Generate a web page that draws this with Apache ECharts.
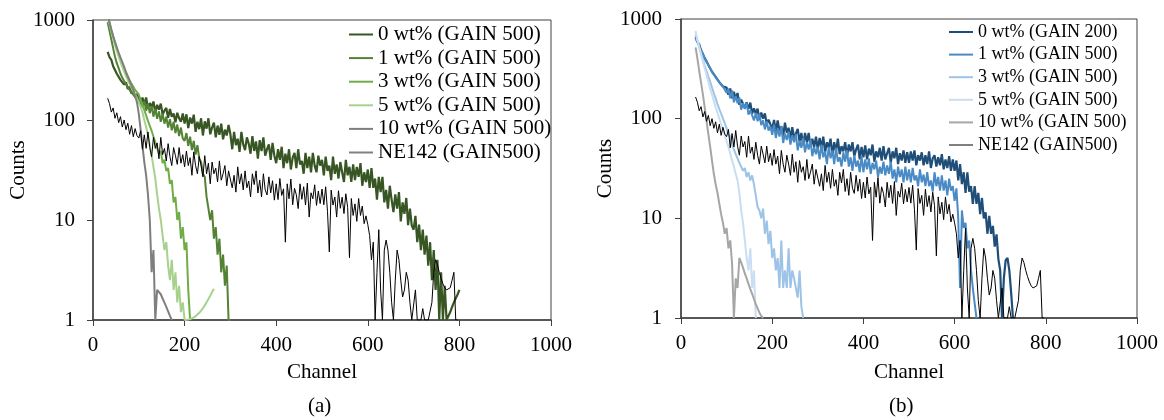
<!DOCTYPE html>
<html lang="en">
<head>
<meta charset="utf-8" />
<title>Counts vs Channel</title>
<script src="https://cdn.jsdelivr.net/npm/echarts@6/dist/echarts.min.js"></script>
<style>
  html, body { margin: 0; padding: 0; background: #fff; }
  #chart { width: 1164px; height: 420px; }
</style>
</head>
<body>
<div id="chart"></div>
<script type="text/javascript">
// channel grid shared by every spectrum: first channel and spacing
var CH_START = 32, CH_STEP = 4;

// ---- panel (a) ----
var a_names = ['0 wt% (GAIN 500)', '1 wt% (GAIN 500)', '3 wt% (GAIN 500)', '5 wt% (GAIN 500)', '10 wt% (GAIN 500)', 'NE142 (GAIN500)'];
var a_colors = ['#375623', '#548235', '#70AD47', '#A9D18E', '#7F7F7F', '#000000'];

var a_0wt = [480, 425, 400, 345, 340, 290, 292, 252, 258, 226, 238, 204, 215, 184, 196, 168, 182,
  162, 143, 168, 142, 168, 129, 148, 135, 153, 118, 142, 127, 146, 113, 124, 132, 105, 129, 108, 116, 95, 118, 104, 96, 116,
  92, 114, 83, 106, 92, 113, 76, 96, 81, 104, 70, 97, 82, 104, 72, 84, 94, 67, 88, 71, 92, 64, 80, 70, 89,
  72, 51, 76, 56, 65, 48, 76, 57, 50, 67, 58, 46, 69, 49, 61, 41, 63, 49, 67, 44, 51, 57, 40, 59, 44,
  37, 51, 40, 54, 33, 46, 37, 51, 32, 42, 47, 33, 51, 36, 39, 29, 47, 33, 43, 30, 47, 35, 30, 44, 35,
  40, 28, 43, 31, 35, 25, 43, 29, 36, 26, 38, 30, 24, 40, 28, 34, 24, 36, 25, 34, 27, 37, 22, 30, 24,
  32, 21, 33, 21, 26, 16, 27, 19, 27, 15, 20, 13, 22, 16, 12, 18, 13, 19, 9.7, 15, 11.5, 16.6, 8.9, 13, 8.8,
  8, 11, 6, 9, 5, 8, 4.5, 7, 3.5, 6, 2.5, 5, 2, 4, 1, 3, 1, 2.2, 1, 1, 1.2, 1.35, 1.5, 1.65, 1.8, 2];
var a_1wt = [950, 780, 640, 520, 430, 370, 330, 290, 265, 245, 228, 215, 200, 188, 180, 170, 164,
  150, 165, 134, 155, 124, 146, 117, 138, 108, 130, 103, 122, 96, 116, 92, 108, 84, 102, 79, 96, 74, 90, 69, 84, 65,
  62, 74, 55, 68, 50, 62, 45, 56, 41, 38, 29, 27, 17, 17, 10, 12.5, 6.5, 8.5, 4.5, 6.5, 3, 4.5, 2.2, 3.5, 1, 1];
var a_3wt = [1150, 950, 800, 690, 600, 520, 460, 410, 365, 330, 300, 275, 250, 230, 215, 200, 190,
  180, 158, 160, 126, 128, 98, 100, 78, 80, 60, 62, 46, 49, 37, 40, 31, 33, 23, 25, 15, 17, 10, 12, 6.5, 8.5, 5, 6, 2, 1];
var a_5wt = [1050, 900, 760, 650, 560, 490, 430, 380, 340, 305, 275, 250, 230, 210, 195, 180, 165,
  150, 135, 120, 100, 85, 70, 56, 44, 34, 26, 18, 13, 10, 7, 5, 6, 3.5, 2.5, 4, 2, 3, 1.5, 2.2, 1.2, 1.5,
  1, 1, 1.01, 1.02, 1.04, 1.06, 1.09, 1.13, 1.18, 1.24, 1.31, 1.4, 1.5, 1.62, 1.75, 1.9, 2.05];
var a_10wt = [1100, 940, 800, 690, 600, 530, 470, 420, 380, 340, 300, 270, 245, 220, 200, 175, 150,
  115, 80, 55, 38, 28, 18, 10, 3, 5, 1, 2, 2, 1.81, 1.64, 1.49, 1.35, 1.22, 1.1, 1];
var ne142 = [165, 146, 120, 132, 104, 118, 94, 108, 85, 100, 80, 93, 72, 88, 68, 82, 70,
  66, 78, 51, 71, 52, 76, 53, 43, 67, 52, 59, 41, 67, 45, 52, 39, 58, 43, 35, 53, 44, 36, 53, 37, 45,
  34, 49, 35, 42, 28, 48, 35, 29, 43, 35, 27, 44, 29, 37, 23, 38, 29, 33, 24, 39, 25, 29, 35, 22, 31,
  32, 21, 28, 19, 34, 23, 29, 20, 31, 21, 24.5, 17, 29, 22.6, 31, 18.6, 25, 17, 29, 20, 17.8, 27, 18.7, 24.7, 15.8,
  23, 16, 26, 17.6, 20.5, 6, 23, 16.3, 25.7, 14.2, 20.7, 17.8, 13, 23, 16.1, 21.5, 14.1, 23.4, 10.7, 18.7, 16.3, 22.5, 14, 19.5, 14.6,
  20.4, 14.2, 21.5, 12.2, 4.8, 19.9, 14.1, 17, 10.7, 19.6, 13.1, 16.9, 11.6, 18.3, 13.4, 4.2, 16.4, 11.1, 14.5, 9.7, 16.4, 11.1, 13.8, 9.2, 11,
  9, 7, 4, 6, 1, 3, 8, 2, 1, 5, 6.3, 5, 3, 1.5, 1, 2.5, 5, 4, 2.5, 1.7, 2, 3, 2.5, 1.5, 1,
  1, 2, 1, 1, 1, 1.3, 1, 1, 1, 1, 1.5, 3, 4, 3.6, 3, 2.6, 2.3, 2.1, 2, 2, 2.1, 2.5, 3, 1, 1];

// ---- panel (b) ----
var b_names = ['0 wt% (GAIN 200)', '1 wt% (GAIN 500)\u200b', '3 wt% (GAIN 500)\u200b', '5 wt% (GAIN 500)\u200b', '10 wt% (GAIN 500)\u200b', 'NE142 (GAIN500)\u200b'];
var b_colors = ['#1F4E79', '#4A8BC6', '#9DC3E6', '#C9DEF2', '#A6A6A6', '#000000'];

var b_0wt = [660, 590, 555, 485, 465, 405, 395, 345, 345, 296, 302, 262, 266, 232, 240, 210, 218,
  205, 174, 201, 160, 186, 157, 181, 138, 155, 162, 128, 146, 125, 145, 112, 127, 112, 126, 97, 115, 100, 113, 88, 98, 101,
  79, 97, 74, 96, 75, 84, 67, 91, 72, 81, 63, 82, 64, 71, 79, 59, 72, 54, 72, 58, 72, 52, 63, 52, 66,
  49, 64, 51, 66, 46, 58, 51, 63, 43, 58, 47, 63, 44, 53, 47, 58, 42, 55, 47, 58, 42, 49, 55, 39, 52,
  41, 54, 39, 50, 43, 55, 37, 47, 41, 51, 38, 53, 39, 45, 51, 36, 47, 40, 51, 35, 45, 38, 48, 36, 46,
  36, 47, 38, 48, 34, 43, 38, 46, 34, 43, 35, 47, 32, 40, 43, 33, 41, 34, 44, 31, 39, 32, 42, 30, 39,
  30, 38, 24, 35, 22, 29, 18, 29, 18.5, 21, 14, 21, 14, 18, 11, 16, 10, 11.5, 7, 10.6, 7, 8.4, 5.2, 6.9, 3.9,
  3, 1, 2.5, 3.8, 4, 3, 1.8, 1];
var b_1wt = [640, 585, 535, 480, 450, 400, 380, 345, 330, 295, 290, 260, 255, 232, 230, 210, 208,
  182, 200, 160, 192, 146, 169, 143, 163, 123, 143, 125, 144, 110, 121, 126, 96, 114, 94, 111, 86, 96, 78, 94, 76, 84,
  69, 87, 64, 80, 66, 84, 57, 71, 61, 74, 55, 68, 58, 70, 48, 60, 51, 64, 46, 58, 49, 61, 42, 52, 44,
  52, 39, 55, 41, 47, 35, 52, 40, 48, 35, 51, 37, 41, 33, 46, 37, 48, 33, 41, 30, 43, 33, 38, 29, 42,
  29, 39, 31, 40, 28, 36, 31, 38, 26, 33, 28, 37, 27, 34, 28, 37, 25, 31, 23, 33, 26, 31, 23, 33, 24,
  31, 23, 32, 24, 27, 21, 31, 23, 27.5, 21, 29, 21, 24, 18.5, 29, 21, 26, 19, 27, 19, 24, 17, 25, 19, 21,
  15, 20, 10, 2, 12, 8, 9, 5, 6, 3, 2, 1.4, 1];
var b_3wt = [700, 600, 520, 450, 390, 340, 300, 265, 235, 205, 180, 160, 140, 125, 112, 100, 90,
  80, 70, 66, 55, 53, 44, 44, 36, 37, 30, 32, 26, 29, 24, 27, 22, 17, 13, 12, 10, 12.5, 7, 9.5, 5.5, 7.5, 4,
  5, 3, 4, 2, 6, 2, 3, 2, 5, 2, 3, 2.5, 2, 1.6, 3, 1.3, 1];
var b_5wt = [760, 620, 520, 440, 375, 320, 275, 235, 200, 175, 150, 130, 115, 100, 88, 78, 68,
  60, 52, 45, 38, 33, 28, 24, 18, 12, 9, 6, 4, 3, 5, 2, 3, 1];
var b_10wt = [520, 400, 300, 230, 175, 130, 95, 70, 52, 38, 28, 22, 18, 14, 11, 9, 7,
  8, 5, 6, 3.5, 1, 2.5, 2, 4, 3.6, 3.2, 2.8, 2.5, 2.2, 1.95, 1.75, 1.55, 1.38, 1.25, 1.13, 1.05, 1];

var FONT = "'Liberation Serif', 'Times New Roman', serif";

function pts(counts) {
  return counts.map(function (c, i) { return [CH_START + i * CH_STEP, c]; });
}

function line(name, counts, color, width, idx) {
  return {
    name: name, type: 'line', data: pts(counts),
    xAxisIndex: idx, yAxisIndex: idx,
    symbol: 'none', showSymbol: false, clip: true,
    lineStyle: { color: color, width: width },
    itemStyle: { color: color }
  };
}

function plain(v) { return String(v); }

function xAxis(idx, gap) {
  return {
    type: 'value', gridIndex: idx, min: 0, max: 1000, interval: 200,
    name: 'Channel', nameLocation: 'middle', nameGap: gap,
    nameTextStyle: { fontFamily: FONT, fontSize: 21, color: '#000' },
    axisLine: { show: true, onZero: false, lineStyle: { color: '#404040', width: 1.5 } },
    axisTick: { show: true, length: 6, lineStyle: { color: '#404040' } },
    axisLabel: { fontFamily: FONT, fontSize: 21, color: '#000', margin: 15, formatter: plain },
    splitLine: { show: false }
  };
}

function yAxis(idx, gap, margin) {
  return {
    type: 'log', logBase: 10, gridIndex: idx, min: 1, max: 1000,
    name: 'Counts', nameLocation: 'middle', nameGap: gap, nameRotate: 90,
    nameTextStyle: { fontFamily: FONT, fontSize: 21, color: '#000' },
    axisLine: { show: true, lineStyle: { color: '#404040', width: 1.5 } },
    axisTick: { show: true, length: 6, lineStyle: { color: '#404040' } },
    axisLabel: { fontFamily: FONT, fontSize: 21, color: '#000', margin: margin, formatter: plain },
    splitLine: { show: false }, minorTick: { show: false }
  };
}

function legendData(names) {
  return names.map(function (n, i) {
    return i === names.length - 1 ? { name: n, itemStyle: { color: '#808080' } } : { name: n };
  });
}

var series = [
  line(a_names[0], a_0wt, a_colors[0], 2.2, 0),
  line(a_names[1], a_1wt, a_colors[1], 2, 0),
  line(a_names[2], a_3wt, a_colors[2], 2, 0),
  line(a_names[3], a_5wt, a_colors[3], 2, 0),
  line(a_names[4], a_10wt, a_colors[4], 2, 0),
  line(a_names[5], ne142, a_colors[5], 1, 0),
  line(b_names[0], b_0wt, b_colors[0], 2.2, 1),
  line(b_names[1], b_1wt, b_colors[1], 2, 1),
  line(b_names[2], b_3wt, b_colors[2], 2, 1),
  line(b_names[3], b_5wt, b_colors[3], 2, 1),
  line(b_names[4], b_10wt, b_colors[4], 2, 1),
  line(b_names[5], ne142, b_colors[5], 1, 1)
];

var chart = echarts.init(document.getElementById('chart'));
chart.setOption({
  animation: false,
  backgroundColor: '#fff',
  grid: [
    { left: 93, top: 20, width: 458, height: 300, show: true, borderColor: '#404040', borderWidth: 1 },
    { left: 681, top: 19, width: 456, height: 299, show: true, borderColor: '#404040', borderWidth: 1 }
  ],
  xAxis: [xAxis(0, 42), xAxis(1, 44)],
  yAxis: [yAxis(0, 64, 18), yAxis(1, 65, 19)],
  legend: [
    {
      data: legendData(a_names), orient: 'vertical', left: 349, top: 24, padding: 0,
      icon: 'rect', itemWidth: 24, itemHeight: 2, itemGap: 2.6,
      textStyle: { fontFamily: FONT, fontSize: 21, lineHeight: 21, color: '#000' }
    },
    {
      data: legendData(b_names), orient: 'vertical', left: 949, top: 23, padding: 0,
      icon: 'rect', itemWidth: 24, itemHeight: 2, itemGap: 4.6,
      textStyle: { fontFamily: FONT, fontSize: 18, lineHeight: 18, color: '#000' }
    }
  ],
  graphic: [
    { type: 'text', left: 308, top: 396, style: { text: '(a)', font: '21px ' + FONT, fill: '#000' } },
    { type: 'text', left: 889, top: 396, style: { text: '(b)', font: '21px ' + FONT, fill: '#000' } }
  ],
  series: series
});
</script>
</body>
</html>
